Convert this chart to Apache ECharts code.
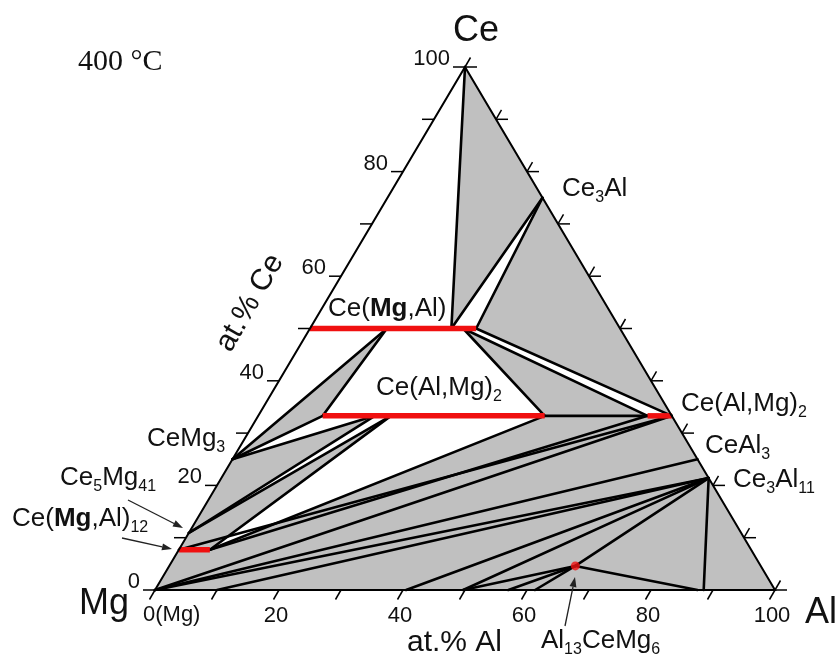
<!DOCTYPE html>
<html>
<head>
<meta charset="utf-8">
<script src="https://cdn.jsdelivr.net/npm/echarts@6/dist/echarts.min.js"></script>
<style>
  html, body { margin: 0; padding: 0; background: #ffffff; }
  #chart { width: 837px; height: 660px; }
</style>
</head>
<body>
<div id="chart"></div>
<script>
// Isothermal section of the Ce–Mg–Al system at 400 °C.
// Every composition is written as [at.% Al, at.% Ce]; Mg is the balance.

const axisTicks = [0, 10, 20, 30, 40, 50, 60, 70, 80, 90, 100];
const axisLabels = [0, 20, 40, 60, 80, 100];

// corners of the composition triangle: Mg, Al, Ce
const corners = [[0, 0], [100, 0], [0, 100]];

// homogeneity ranges, drawn as red bars
const ceMgAl = [[0, 50], [26.8, 50]];              // Ce(Mg,Al)
const ceAlMg2MgSide = [[10.4, 33.3], [46.2, 33.3]]; // Ce(Al,Mg)2, Mg-rich part
const ceAlMg2AlSide = [[62.8, 33.3], [66.7, 33.3]]; // Ce(Al,Mg)2, Al-rich part
const ceMgAl12 = [[0, 7.7], [5, 7.7]];              // Ce(Mg,Al)12

// ternary compound Al13CeMg6
const al13CeMg6 = [65.5, 4.6];

// shaded phase fields
const shadedFields = [
  [[0, 100], [22.8, 50], [25, 75]],
  [[25, 75], [26.8, 50], [66.7, 33.3]],
  [[24.7, 50], [46.2, 33.3], [62.8, 33.3]],
  [[0, 25], [12.4, 50], [10.4, 33.3]],
  [[0, 25], [0, 10.9], [18.8, 33.3]],
  [[0, 10.9], [0, 7.7], [5, 7.7], [21.4, 33.3]],
  [[0, 7.7], [5, 7.7], [46.2, 33.3], [66.7, 33.3], [100, 0], [0, 0]]
];

// field boundaries and tie lines
const tieLines = [
  [[0, 100], [22.8, 50]],
  [[22.8, 50], [25, 75]],
  [[26.8, 50], [25, 75]],
  [[26.8, 50], [66.7, 33.3]],
  [[24.7, 50], [62.8, 33.3]],
  [[24.7, 50], [46.2, 33.3]],
  [[12.4, 50], [10.4, 33.3]],
  [[12.4, 50], [0, 25]],
  [[0, 25], [10.4, 33.3]],
  [[0, 25], [18.8, 33.3]],
  [[0, 10.9], [18.8, 33.3]],
  [[0, 10.9], [21.4, 33.3]],
  [[5, 7.7], [21.4, 33.3]],
  [[5, 7.7], [46.2, 33.3]],
  [[46.2, 33.3], [62.8, 33.3]],
  [[5, 7.7], [62.8, 33.3]],
  [[0, 7.7], [66.7, 33.3]],
  [[0, 0], [66.7, 33.3]],
  [[0, 0], [75, 25]],
  [[0, 0], [78.6, 21.4]],
  [[10, 0], [78.6, 21.4]],
  [[40.5, 0], [78.6, 21.4]],
  [[49.7, 0], [78.6, 21.4]],
  [[49.7, 0], [65.5, 4.6]],
  [[57, 0], [65.5, 4.6]],
  [[61.3, 0], [65.5, 4.6]],
  [[65.5, 4.6], [78.6, 21.4]],
  [[65.5, 4.6], [87.5, 0]],
  [[78.6, 21.4], [88.5, 0]]
];

// triangle composition -> plotting plane (x = Al + Ce/2, y = Ce)
const toXY = ([al, ce]) => [al + ce / 2, ce];

const FONT = "'Liberation Sans', Arial, Helvetica, sans-serif";
const SERIF = "'Liberation Serif', 'Times New Roman', serif";

function segmentSeries(list, color, width, z, cap) {
  return {
    type: 'custom',
    coordinateSystem: 'cartesian2d',
    silent: true,
    z: z,
    clip: false,
    encode: { x: [0, 2], y: [1, 3] },
    data: list.map(([a, b]) => toXY(a).concat(toXY(b))),
    renderItem: (params, api) => {
      const p = api.coord([api.value(0), api.value(1)]);
      const q = api.coord([api.value(2), api.value(3)]);
      return {
        type: 'line',
        shape: { x1: p[0], y1: p[1], x2: q[0], y2: q[1] },
        style: { stroke: color, lineWidth: width, lineCap: cap || 'round' }
      };
    }
  };
}

const polygonSeries = {
  type: 'custom',
  coordinateSystem: 'cartesian2d',
  silent: true,
  z: 1,
  clip: false,
  data: shadedFields.map(f => toXY(f[0])),
  renderItem: (params, api) => {
    const pts = shadedFields[params.dataIndex].map(c => api.coord(toXY(c)));
    return {
      type: 'polygon',
      shape: { points: pts },
      style: { fill: '#c0c0c0', stroke: null }
    };
  }
};

const frameSeries = {
  type: 'custom',
  coordinateSystem: 'cartesian2d',
  silent: true,
  z: 5,
  clip: false,
  data: [toXY(corners[0])],
  renderItem: (params, api) => {
    const pts = corners.map(c => api.coord(toXY(c)));
    return {
      type: 'polygon',
      shape: { points: pts },
      style: { fill: null, stroke: '#000', lineWidth: 2, lineJoin: 'miter' }
    };
  }
};

// tick marks on all three sides
const tickSeries = {
  type: 'custom',
  coordinateSystem: 'cartesian2d',
  silent: true,
  z: 5,
  clip: false,
  data: axisTicks.map(v => [v, 0]),
  renderItem: (params, api) => {
    const v = axisTicks[params.dataIndex];
    const left = api.coord(toXY([0, v]));
    const bottom = api.coord(toXY([v, 0]));
    const right = api.coord(toXY([100 - v, v]));
    const st = { stroke: '#000', lineWidth: 1.5 };
    const ln = (x1, y1, x2, y2) => ({ type: 'line', shape: { x1, y1, x2, y2 }, style: st });
    return {
      type: 'group',
      children: [
        ln(left[0], left[1], left[0] - 12, left[1]),
        ln(bottom[0], bottom[1], bottom[0] - 5.5, bottom[1] + 9.5),
        ln(right[0], right[1], right[0] + 12, right[1]),
        ln(right[0], right[1], right[0] + 5.5, right[1] - 9.5)
      ]
    };
  }
};

// numbers along the Ce (left) and Al (bottom) axes
const tickLabelSeries = {
  type: 'custom',
  coordinateSystem: 'cartesian2d',
  silent: true,
  z: 6,
  clip: false,
  data: axisLabels.map(v => [v, 0]),
  renderItem: (params, api) => {
    const v = axisLabels[params.dataIndex];
    const left = api.coord(toXY([0, v]));
    const bottom = api.coord(toXY([v, 0]));
    const base = { fill: '#111', fontSize: 22, fontFamily: FONT };
    return {
      type: 'group',
      children: [
        {
          type: 'text',
          style: Object.assign({}, base, {
            text: String(v), x: left[0] - 15, y: left[1] - 8,
            align: 'right', verticalAlign: 'middle'
          })
        },
        {
          type: 'text',
          style: Object.assign({}, base, v === 0
            ? { text: '0(Mg)', x: bottom[0] - 12, y: bottom[1] + 25, align: 'left', verticalAlign: 'middle' }
            : { text: String(v), x: bottom[0] - 3, y: bottom[1] + 26, align: 'center', verticalAlign: 'middle' })
        }
      ]
    };
  }
};

// rich-text helpers for chemical formulas
function formulaRich(size, sub) {
  return {
    n: { fontSize: size, fontFamily: FONT, fill: '#111', lineHeight: size + 4, verticalAlign: 'top' },
    b: { fontSize: size, fontFamily: FONT, fontWeight: 'bold', fill: '#111', lineHeight: size + 4, verticalAlign: 'top' },
    s: { fontSize: sub, fontFamily: FONT, fill: '#111', lineHeight: 8, verticalAlign: 'bottom' }
  };
}

function formula(text, x, y, size, sub) {
  return {
    type: 'text',
    x: x, y: y,
    silent: true,
    z: 10,
    style: {
      text: text,
      rich: formulaRich(size || 26, sub || 16),
      align: 'left',
      verticalAlign: 'middle'
    }
  };
}

function plain(text, x, y, size, align, family, rotation) {
  return {
    type: 'text',
    x: x, y: y,
    rotation: rotation || 0,
    silent: true,
    z: 10,
    style: {
      text: text,
      fill: '#111',
      fontSize: size,
      fontFamily: family || FONT,
      align: align || 'left',
      verticalAlign: 'middle'
    }
  };
}

function arrow(x1, y1, x2, y2) {
  const a = Math.atan2(y2 - y1, x2 - x1);
  const L = 10, W = 3.5;
  const bx = x2 - L * Math.cos(a), by = y2 - L * Math.sin(a);
  return [
    { type: 'line', silent: true, z: 10, shape: { x1, y1, x2: bx, y2: by }, style: { stroke: '#222', lineWidth: 1.3 } },
    {
      type: 'polygon', silent: true, z: 10,
      shape: { points: [[x2, y2], [bx - W * Math.sin(a), by + W * Math.cos(a)], [bx + W * Math.sin(a), by - W * Math.cos(a)]] },
      style: { fill: '#222' }
    }
  ];
}

const chart = echarts.init(document.getElementById('chart'), null, { renderer: 'canvas' });

chart.setOption({
  animation: false,
  backgroundColor: '#ffffff',
  grid: { left: 155, right: 62, top: 67, bottom: 70 },
  xAxis: { type: 'value', min: 0, max: 100, show: false },
  yAxis: { type: 'value', min: 0, max: 100, show: false },
  series: [
    polygonSeries,
    segmentSeries(tieLines, '#000', 2.6, 2, 'round'),
    segmentSeries([ceMgAl, ceAlMg2MgSide, ceAlMg2AlSide, ceMgAl12], '#f01010', 5.5, 3, 'butt'),
    {
      type: 'scatter',
      silent: true,
      z: 4,
      symbol: 'circle',
      symbolSize: 9,
      itemStyle: { color: '#f01010' },
      data: [toXY(al13CeMg6)]
    },
    frameSeries,
    tickSeries,
    tickLabelSeries
  ],
  graphic: [
    plain('400 °C', 78, 62, 30, 'left', SERIF),
    plain('Ce', 476, 31, 36, 'center'),
    plain('Mg', 79, 604, 36, 'left'),
    plain('Al', 805, 613, 36, 'left'),
    plain('at.% Ce', 250, 303, 30, 'center', FONT, Math.PI / 3),
    plain('at.% Al', 407, 643, 30, 'left'),
    formula('{n|Ce}{s|3}{n|Al}', 562, 191),
    formula('{n|Ce(}{b|Mg}{n|,Al)}', 328, 311),
    formula('{n|Ce(Al,Mg)}{s|2}', 376, 390),
    formula('{n|Ce(Al,Mg)}{s|2}', 681, 406),
    formula('{n|CeAl}{s|3}', 705, 448),
    formula('{n|Ce}{s|3}{n|Al}{s|11}', 733, 482),
    formula('{n|CeMg}{s|3}', 147, 441),
    formula('{n|Ce}{s|5}{n|Mg}{s|41}', 60, 480),
    formula('{n|Ce(}{b|Mg}{n|,Al)}{s|12}', 12, 521),
    formula('{n|Al}{s|13}{n|CeMg}{s|6}', 541, 643)
  ]
    .concat(arrow(128, 500, 183, 528))
    .concat(arrow(122, 538, 172, 549))
    .concat(arrow(565, 626, 575, 577))
});
</script>
</body>
</html>
